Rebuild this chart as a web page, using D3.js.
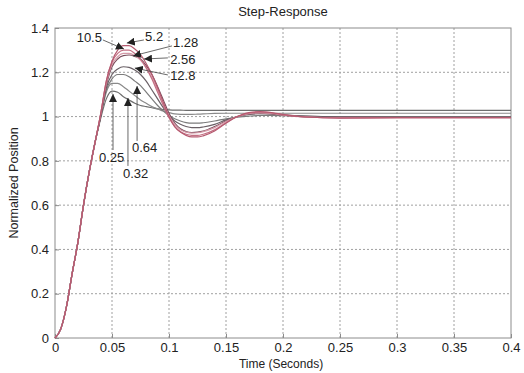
<!DOCTYPE html>
<html>
<head>
<meta charset="utf-8">
<script src="https://cdn.jsdelivr.net/npm/d3@7"></script>
<style>
  body { margin: 0; background: #fff; }
  text { font-family: "Liberation Sans", Arial, sans-serif; fill: #222; }
</style>
</head>
<body>
<div id="chart"></div>
<script>
// time samples (seconds)
const times = [0, 0.005, 0.01, 0.015, 0.02, 0.025, 0.03, 0.035,
  0.04, 0.045, 0.05, 0.055, 0.06, 0.065, 0.07, 0.075, 0.08, 0.085, 0.09, 0.095,
  0.1, 0.105, 0.11, 0.115, 0.12, 0.125, 0.13, 0.14, 0.15, 0.16, 0.17, 0.18, 0.19,
  0.2, 0.22, 0.25, 0.3, 0.35, 0.4];

// common rise section, then each curve
const rise = [0, 0.04, 0.14, 0.29, 0.43, 0.6, 0.75, 0.88];
const resp025 = rise.concat([0.99, 1.08, 1.115, 1.11, 1.09, 1.075, 1.06, 1.05, 1.045, 1.04, 1.035, 1.032,
  1.03, 1.029, 1.029, 1.028, 1.028, 1.028, 1.028, 1.028, 1.028, 1.028, 1.028, 1.028, 1.028,
  1.028, 1.028, 1.028, 1.028, 1.028, 1.028]);
const resp032 = rise.concat([1.0, 1.11, 1.15, 1.15, 1.135, 1.115, 1.095, 1.075, 1.06, 1.045, 1.035, 1.025,
  1.018, 1.012, 1.01, 1.01, 1.01, 1.011, 1.012, 1.014, 1.015, 1.015, 1.015, 1.015, 1.015,
  1.015, 1.015, 1.015, 1.015, 1.015, 1.015]);
const resp064 = rise.concat([1.0, 1.12, 1.17, 1.19, 1.19, 1.18, 1.16, 1.14, 1.11, 1.08, 1.05, 1.025,
  1.005, 0.99, 0.98, 0.973, 0.97, 0.97, 0.972, 0.98, 0.99, 0.997, 1.002, 1.005, 1.005,
  1.004, 1.002, 1.0, 1.0, 1.0, 1.0]);
const resp128 = rise.concat([1.0, 1.13, 1.19, 1.215, 1.225, 1.222, 1.21, 1.19, 1.16, 1.12, 1.08, 1.04,
  1.005, 0.98, 0.965, 0.955, 0.95, 0.95, 0.953, 0.965, 0.985, 1.0, 1.01, 1.013, 1.012,
  1.008, 1.002, 0.998, 0.997, 0.997, 0.997]);
const resp256 = rise.concat([1.0, 1.14, 1.225, 1.26, 1.275, 1.278, 1.272, 1.26, 1.23, 1.19, 1.135, 1.075,
  1.015, 0.97, 0.945, 0.932, 0.928, 0.93, 0.935, 0.955, 0.98, 1.0, 1.012, 1.015, 1.012,
  1.006, 0.999, 0.996, 0.996, 0.996, 0.996]);
const resp1p28 = rise.concat([1.01, 1.15, 1.235, 1.27, 1.285, 1.285, 1.275, 1.255, 1.22, 1.175, 1.12, 1.06,
  1.005, 0.965, 0.94, 0.93, 0.925, 0.927, 0.932, 0.95, 0.978, 1.0, 1.013, 1.017, 1.014,
  1.007, 0.999, 0.995, 0.995, 0.995, 0.995]);
const resp105 = rise.concat([1.01, 1.16, 1.245, 1.285, 1.3, 1.3, 1.285, 1.26, 1.22, 1.17, 1.11, 1.05,
  0.995, 0.955, 0.932, 0.92, 0.915, 0.915, 0.92, 0.94, 0.972, 1.0, 1.015, 1.02, 1.016,
  1.008, 0.998, 0.994, 0.995, 0.995, 0.995]);
const resp52 = rise.concat([1.01, 1.16, 1.25, 1.3, 1.32, 1.32, 1.305, 1.28, 1.24, 1.19, 1.13, 1.065,
  1.0, 0.955, 0.93, 0.915, 0.908, 0.908, 0.913, 0.935, 0.97, 1.0, 1.018, 1.022, 1.018,
  1.01, 0.998, 0.993, 0.995, 0.995, 0.995]);

const series = [
  { name: "0.25", values: resp025, color: "#6e6e6e" },
  { name: "0.32", values: resp032, color: "#8a8a8a" },
  { name: "0.64", values: resp064, color: "#7c7c7c" },
  { name: "12.8", values: resp128, color: "#6a6066" },
  { name: "2.56", values: resp256, color: "#7a4e5c" },
  { name: "1.28", values: resp1p28, color: "#d59aa8" },
  { name: "10.5", values: resp105, color: "#c47084" },
  { name: "5.2", values: resp52, color: "#b65a70" }
];

// labels: text anchor (t, v), arrow from (t0, v0) to tip (t1, v1)
const labels = [
  { text: "10.5", t: 0.019, v: 1.337, t0: 0.042, v0: 1.346, t1: 0.0605, v1: 1.305 },
  { text: "5.2", t: 0.079, v: 1.341, t0: 0.078, v0: 1.346, t1: 0.063, v1: 1.332 },
  { text: "1.28", t: 0.1035, v: 1.314, t0: 0.1026, v0: 1.319, t1: 0.0684, v1: 1.274 },
  { text: "2.56", t: 0.101, v: 1.2375, t0: 0.099, v0: 1.265, t1: 0.078, v1: 1.26 },
  { text: "12.8", t: 0.101, v: 1.165, t0: 0.099, v0: 1.188, t1: 0.07, v1: 1.219 },
  { text: "0.64", t: 0.0675, v: 0.84, t0: 0.072, v0: 0.89, t1: 0.072, v1: 1.138 },
  { text: "0.25", t: 0.0386, v: 0.795, t0: 0.0509, v0: 0.849, t1: 0.0509, v1: 1.102 },
  { text: "0.32", t: 0.0596, v: 0.723, t0: 0.064, v0: 0.777, t1: 0.064, v1: 1.084 }
];

const xTicks = [0, 0.05, 0.1, 0.15, 0.2, 0.25, 0.3, 0.35, 0.4];
const yTicks = [0, 0.2, 0.4, 0.6, 0.8, 1, 1.2, 1.4];

const width = 524, height = 373;
const plotLeft = 55, plotRight = 511, plotTop = 28, plotBottom = 338;

const svg = d3.select("#chart").append("svg")
  .attr("width", width).attr("height", height);

const x = d3.scaleLinear().domain([0, 0.4]).range([plotLeft, plotRight]);
const y = d3.scaleLinear().domain([0, 1.4]).range([plotBottom, plotTop]);

// grid
svg.append("g").selectAll("line").data(xTicks.slice(1, -1)).enter().append("line")
  .attr("x1", d => x(d)).attr("x2", d => x(d)).attr("y1", plotTop).attr("y2", plotBottom)
  .attr("stroke", "#a0a0a0").attr("stroke-dasharray", "2,2");
svg.append("g").selectAll("line").data(yTicks.slice(1, -1)).enter().append("line")
  .attr("y1", d => y(d)).attr("y2", d => y(d)).attr("x1", plotLeft).attr("x2", plotRight)
  .attr("stroke", "#a0a0a0").attr("stroke-dasharray", "2,2");

// frame
svg.append("rect").attr("x", plotLeft).attr("y", plotTop)
  .attr("width", plotRight - plotLeft).attr("height", plotBottom - plotTop)
  .attr("fill", "none").attr("stroke", "#8c8c8c");

// axes
const xAxis = svg.append("g").attr("transform", `translate(0,${plotBottom})`)
  .call(d3.axisBottom(x).tickValues(xTicks).tickSize(-4).tickPadding(5).tickFormat(d3.format("")));
const yAxis = svg.append("g").attr("transform", `translate(${plotLeft},0)`)
  .call(d3.axisLeft(y).tickValues(yTicks).tickSize(-4).tickPadding(6).tickFormat(d3.format("")));
[xAxis, yAxis].forEach(a => {
  a.select(".domain").remove();
  a.selectAll(".tick line").attr("stroke", "#8c8c8c");
  a.selectAll(".tick text").attr("font-size", 13).attr("fill", "#222")
    .style("font-family", "'Liberation Sans', Arial, sans-serif");
});

// curves
const line = d3.line()
  .x((d, i) => x(times[i]))
  .y(d => y(d))
  .curve(d3.curveMonotoneX);

svg.append("g").selectAll("path").data(series).enter().append("path")
  .attr("d", d => line(d.values))
  .attr("fill", "none")
  .attr("stroke", d => d.color)
  .attr("stroke-width", 1.2);

// arrowheads
svg.append("defs").append("marker")
  .attr("id", "arrow")
  .attr("viewBox", "0 0 10 10")
  .attr("refX", 10).attr("refY", 5)
  .attr("markerWidth", 8).attr("markerHeight", 8)
  .attr("markerUnits", "userSpaceOnUse")
  .attr("orient", "auto")
  .append("path").attr("d", "M0,0L10,5L0,10Z").attr("fill", "#222");

const ann = svg.append("g");
ann.selectAll("line").data(labels).enter().append("line")
  .attr("x1", d => x(d.t0)).attr("y1", d => y(d.v0))
  .attr("x2", d => x(d.t1)).attr("y2", d => y(d.v1))
  .attr("stroke", "#444").attr("stroke-width", 0.8)
  .attr("marker-end", "url(#arrow)");
ann.selectAll("text").data(labels).enter().append("text")
  .attr("x", d => x(d.t)).attr("y", d => y(d.v))
  .attr("font-size", 13)
  .text(d => d.text);

// titles
svg.append("text").attr("x", 283).attr("y", 16).attr("text-anchor", "middle")
  .attr("font-size", 13).text("Step-Response");
svg.append("text").attr("x", 281).attr("y", 368).attr("text-anchor", "middle")
  .attr("font-size", 12).text("Time (Seconds)");
svg.append("text").attr("transform", "translate(18,183) rotate(-90)")
  .attr("text-anchor", "middle").attr("font-size", 12.5).text("Normalized Position");
</script>
</body>
</html>
